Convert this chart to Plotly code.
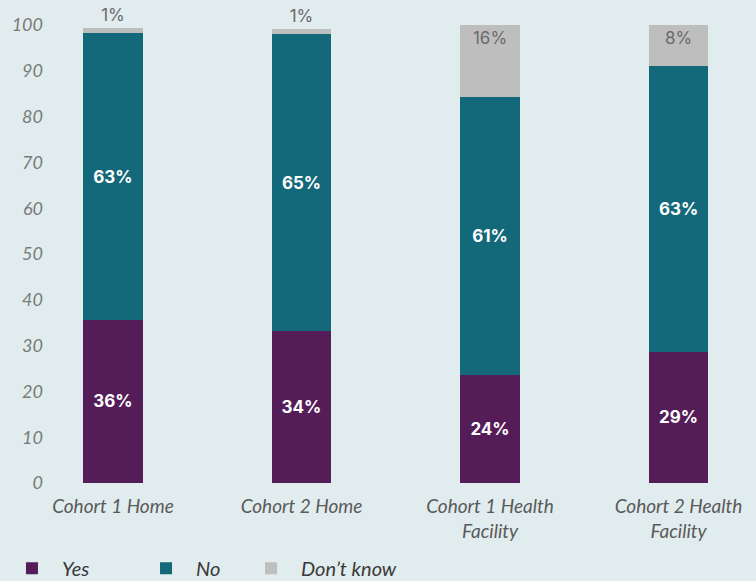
import plotly.graph_objects as go

categories = ["Cohort 1 Home", "Cohort 2 Home", "Cohort 1 Health<br>Facility", "Cohort 2 Health<br>Facility"]
yes_vals = [35.6, 33.2, 23.6, 28.7]
no_vals = [62.6, 64.8, 60.6, 62.4]
dk_vals = [1.1, 1.2, 15.8, 8.9]
yes_text = ["36%", "34%", "24%", "29%"]
no_text = ["63%", "65%", "61%", "63%"]
dk_text = ["1%", "1%", "16%", "8%"]
y_ticks = [0, 10, 20, 30, 40, 50, 60, 70, 80, 90, 100]

BG = "#e1ecee"
BAR_W = 0.315
label_font = dict(family="Inter, 'Open Sans', sans-serif", size=17, color="white", weight="bold")

fig = go.Figure()
fig.add_trace(go.Bar(
    name="Yes", x=categories, y=yes_vals, text=yes_text, width=BAR_W,
    marker=dict(color="#541d57", line=dict(width=0)),
    textposition="inside", insidetextanchor="middle", textfont=label_font,
    textangle=0, legend="legend",
))
fig.add_trace(go.Bar(
    name="No", x=categories, y=no_vals, text=no_text, width=BAR_W,
    marker=dict(color="#13687a", line=dict(width=0)),
    textposition="inside", insidetextanchor="middle", textfont=label_font,
    textangle=0, legend="legend2",
))
fig.add_trace(go.Bar(
    name="Don\u2019t know", x=categories, y=dk_vals, text=dk_text, width=BAR_W,
    marker=dict(color="#bebebf", line=dict(width=0)),
    textposition=["outside", "outside", "inside", "inside"], insidetextanchor="end",
    textfont=dict(family="Inter, 'Open Sans', sans-serif", size=17, color="#6b6b6b"),
    cliponaxis=False, textangle=0, legend="legend3",
))

legend_font = dict(family="Lato", size=20, color="#3a3a3a", style="italic")
def leg(x):
    return dict(orientation="h", x=x, xanchor="left", y=-0.186, yanchor="middle",
                font=legend_font, itemwidth=50, bgcolor="rgba(0,0,0,0)")

fig.update_layout(
    barmode="stack",
    width=756, height=581,
    paper_bgcolor=BG, plot_bgcolor=BG,
    margin=dict(l=50, r=6, t=25, b=98, autoexpand=False),
    showlegend=True,
    legend=leg(-0.0686),
    legend2=leg(0.1229),
    legend3=leg(0.2729),
    xaxis=dict(
        range=[-0.334, 3.379], showgrid=False, zeroline=False, showline=False,
        tickfont=dict(family="Lato", size=19, color="#5a5a5a", style="italic"),
        ticks="", ticklabelstandoff=10,
    ),
    yaxis=dict(
        range=[0, 100], tickvals=y_ticks, showgrid=False, zeroline=False, showline=False,
        tickfont=dict(family="Lato", size=18, color="#7a7a7a", style="italic"),
        ticks="", ticklabelstandoff=6,
    ),
)

fig.write_html(
    "out.html",
    config={"displayModeBar": False},
    post_script="document.body.style.margin='0';document.body.style.background='#e1ecee';",
)
